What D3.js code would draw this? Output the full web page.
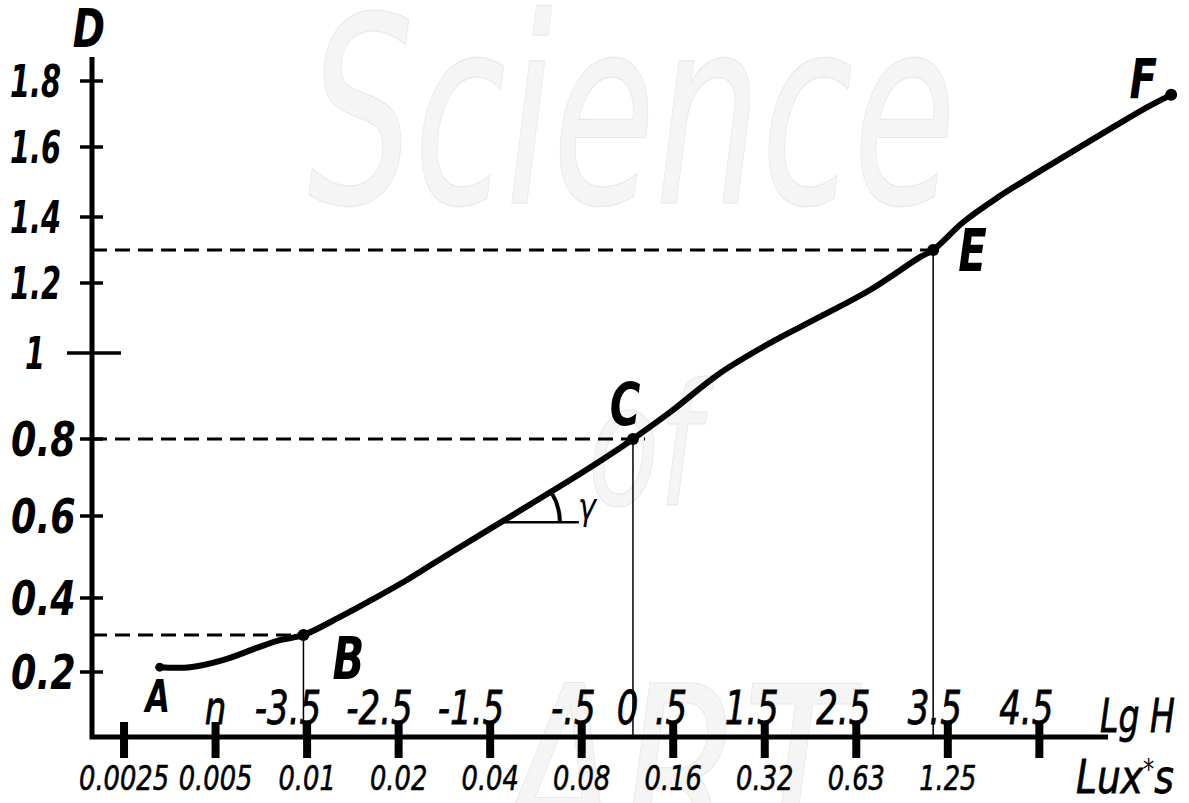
<!DOCTYPE html>
<html>
<head>
<meta charset="utf-8">
<script src="https://cdn.jsdelivr.net/npm/d3@7"></script>
<style>
body { margin: 0; background: #fff; }
svg text { font-family: "DejaVu Sans", sans-serif; font-style: italic; }
</style>
</head>
<body>
<script>
// density axis
var dTicks = [0.2, 0.4, 0.6, 0.8, 1, 1.2, 1.4, 1.6, 1.8];
var dLabels = ["0.2", "0.4", "0.6", "0.8", "1", "1.2", "1.4", "1.6", "1.8"];

// exposure axis: tick marks in lg H, labels below in lux*s
var hTicks = [-5.5, -4.5, -3.5, -2.5, -1.5, -0.5, 0.5, 1.5, 2.5, 3.5, 4.5];
var luxLabels = ["0.0025", "0.005", "0.01", "0.02", "0.04", "0.08", "0.16", "0.32", "0.63", "1.25", ""];
var lgValues = [-4.5, -3.5, -2.5, -1.5, -0.5, 0, 0.5, 1.5, 2.5, 3.5, 4.5];
var lgLabels = ["n", "-3.5", "-2.5", "-1.5", "-.5", "0", ".5", "1.5", "2.5", "3.5", "4.5"];

// characteristic curve
var curveH = [-5.11, -4.78, -4.42, -4.05, -3.80, -3.54, -3.14, -2.78, -2.41, -2.13, -1.61, -1.07, -0.52, -0.16, 0.06,
  0.47, 1.01, 1.56, 2.10, 2.65, 3.20, 3.34, 3.67, 4.04, 4.40, 4.76, 5.31, 5.68, 5.94];
var curveD = [0.213, 0.213, 0.232, 0.265, 0.286, 0.30, 0.349, 0.397, 0.444, 0.483, 0.554, 0.629, 0.709, 0.764, 0.80,
  0.863, 0.953, 1.029, 1.103, 1.18, 1.279, 1.30, 1.385, 1.455, 1.514, 1.571, 1.661, 1.721, 1.758];

// marked points
var pointNames = ["A", "B", "C", "E", "F"];
var pointH = [-5.11, -3.54, 0.06, 3.34, 5.94];
var pointD = [0.213, 0.30, 0.80, 1.30, 1.758];
var guidePoints = ["B", "C", "E"];

// gamma angle anchor
var gammaH = -1.35, gammaD = 0.585;

var W = 1189, H = 803;
var svg = d3.select("body").append("svg")
  .attr("width", W).attr("height", H);

// axis scales (y axis was drawn by hand, ticks not evenly spaced)
var x = d3.scaleLinear().domain([-5.85, 5.25]).range([92, 1108]);
var y = d3.scaleLinear().domain(dTicks).range([672, 598, 516, 439, 353, 283, 217, 147, 81]);
var y0 = 737, yTop = 57;

// condensed text helper
function tr(px, py, sx) {
  return "translate(" + px + "," + py + ") scale(" + sx + ",1)";
}
function label(g, px, py, s, size, sx, weight, anchor) {
  return g.append("text").attr("transform", tr(px, py, sx))
    .attr("text-anchor", anchor || "start").attr("font-size", size)
    .attr("font-weight", weight || "normal").text(s);
}

// watermark
var wm = svg.append("g").attr("fill", "#f5f5f5").attr("stroke", "#e8e8e8").attr("stroke-width", 1.2)
  .attr("font-weight", "normal");
wm.append("text").attr("x", 308).attr("y", 203).attr("font-size", 260)
  .attr("textLength", 648).attr("lengthAdjust", "spacingAndGlyphs").text("Science");
wm.append("text").attr("x", 588).attr("y", 505).attr("font-size", 170)
  .attr("textLength", 112).attr("lengthAdjust", "spacingAndGlyphs").text("of");
wm.append("text").attr("x", 500).attr("y", 865).attr("font-size", 250)
  .attr("textLength", 350).attr("lengthAdjust", "spacingAndGlyphs").text("ART");

// guide lines
var guides = pointNames.map(function (n, i) { return { name: n, h: pointH[i], d: pointD[i] }; })
  .filter(function (p) { return guidePoints.indexOf(p.name) >= 0; });

svg.selectAll(".hguide").data(guides).enter().append("line")
  .attr("x1", x.range()[0]).attr("x2", function (d) { return x(d.h) + (d.name == "C" ? 12 : 0); })
  .attr("y1", function (d) { return y(d.d); }).attr("y2", function (d) { return y(d.d); })
  .attr("stroke", "#000").attr("stroke-width", 3).attr("stroke-dasharray", "15,8");

svg.selectAll(".vguide").data(guides).enter().append("line")
  .attr("x1", function (d) { return x(d.h); }).attr("x2", function (d) { return x(d.h); })
  .attr("y1", function (d) { return y(d.d); }).attr("y2", y0)
  .attr("stroke", "#000").attr("stroke-width", 1.5);

// axes
svg.append("path")
  .attr("d", "M" + x.range()[0] + "," + yTop + "V" + y0 + "H" + x.range()[1])
  .attr("fill", "none").attr("stroke", "#000").attr("stroke-width", 5);

svg.selectAll(".ytick").data(dTicks).enter().append("line")
  .attr("x1", function (d) { return d == 1 ? 67 : 80; })
  .attr("x2", function (d) { return d == 1 ? 121 : 103; })
  .attr("y1", function (d) { return y(d); }).attr("y2", function (d) { return y(d); })
  .attr("stroke", "#000").attr("stroke-width", 3.5);

svg.selectAll(".ylab").data(dTicks).enter().append("text")
  .attr("transform", function (d) { return tr(d < 1 ? 11 : (d == 1 ? 25 : 10), y(d), d < 1 ? 0.76 : 0.64); })
  .attr("dy", "0.36em").attr("font-size", function (d) { return d < 1 ? 48 : 45; })
  .attr("font-weight", "bold")
  .text(function (d, i) { return dLabels[i]; });

label(svg, 89, 47, "D", 54, 0.72, "bold", "middle");

svg.selectAll(".xtick").data(hTicks).enter().append("line")
  .attr("x1", function (d) { return x(d); }).attr("x2", function (d) { return x(d); })
  .attr("y1", y0 - 15).attr("y2", y0 + 21)
  .attr("stroke", "#000").attr("stroke-width", 8);

svg.selectAll(".luxlab").data(hTicks).enter().append("text")
  .attr("transform", function (d) { return tr(x(d), 790, 0.78); })
  .attr("text-anchor", "middle").attr("font-size", 33)
  .attr("stroke", "#000").attr("stroke-width", 0.6)
  .text(function (d, i) { return luxLabels[i]; });

svg.selectAll(".lglab").data(lgValues).enter().append("text")
  .attr("transform", function (d, i) {
    var dotted = lgLabels[i].indexOf(".") >= 0;
    return tr(x(d) + (dotted ? 14 : 0), 724, 0.74);
  })
  .attr("text-anchor", function (d, i) { return lgLabels[i].indexOf(".") >= 0 ? "end" : "middle"; })
  .attr("font-size", 46)
  .attr("stroke", "#000").attr("stroke-width", 0.8)
  .text(function (d, i) { return lgLabels[i]; });

label(svg, 1100, 732, "Lg H", 46, 0.72).attr("stroke", "#000").attr("stroke-width", 0.8);

var lux = svg.append("text").attr("transform", tr(1076, 793, 0.8)).attr("font-size", 47)
  .attr("stroke", "#000").attr("stroke-width", 0.8);
lux.append("tspan").text("Lux");
lux.append("tspan").attr("font-size", 28).attr("dy", -14).attr("stroke-width", 0).text("*");
lux.append("tspan").attr("dy", 14).text("s");

// the curve
var pts = curveH.map(function (h, i) { return [h, curveD[i]]; });
var line = d3.line()
  .x(function (d) { return x(d[0]); })
  .y(function (d) { return y(d[1]); })
  .curve(d3.curveCatmullRom.alpha(0.5));

svg.append("path").datum(pts).attr("d", line)
  .attr("fill", "none").attr("stroke", "#000").attr("stroke-width", 6)
  .attr("stroke-linejoin", "round").attr("stroke-linecap", "round");

// gamma angle
var gx = x(gammaH), gy = y(gammaD);
var sx = x(curveH[11]) - x(curveH[10]), sy = y(curveD[10]) - y(curveD[11]);
var ang = Math.atan2(sy, sx);
svg.append("line").attr("x1", gx).attr("x2", gx + 75).attr("y1", gy).attr("y2", gy)
  .attr("stroke", "#000").attr("stroke-width", 2.5);
svg.append("path")
  .attr("transform", "translate(" + gx + "," + gy + ")")
  .attr("d", d3.arc().innerRadius(54).outerRadius(58).startAngle(Math.PI / 2 - ang).endAngle(Math.PI / 2)())
  .attr("fill", "#000");
label(svg, gx + 74, gy - 3, "γ", 38, 0.8);

// points and letters
var labelPos = {
  A: { dx: -2, dy: 45, anchor: "middle", size: 44 },
  B: { dx: 29, dy: 44, anchor: "start", size: 58 },
  C: { dx: -8, dy: -14, anchor: "middle", size: 58 },
  E: { dx: 25, dy: 21, anchor: "start", size: 58 },
  F: { dx: -14, dy: 3, anchor: "end", size: 56 }
};

pointNames.forEach(function (n, i) {
  var px = x(pointH[i]), py = y(pointD[i]);
  svg.append("circle").attr("cx", px).attr("cy", py).attr("r", n == "A" ? 4.5 : 6).attr("fill", "#000");
  var lp = labelPos[n];
  label(svg, px + lp.dx, py + lp.dy, n, lp.size, 0.72, "bold", lp.anchor);
});
</script>
</body>
</html>
